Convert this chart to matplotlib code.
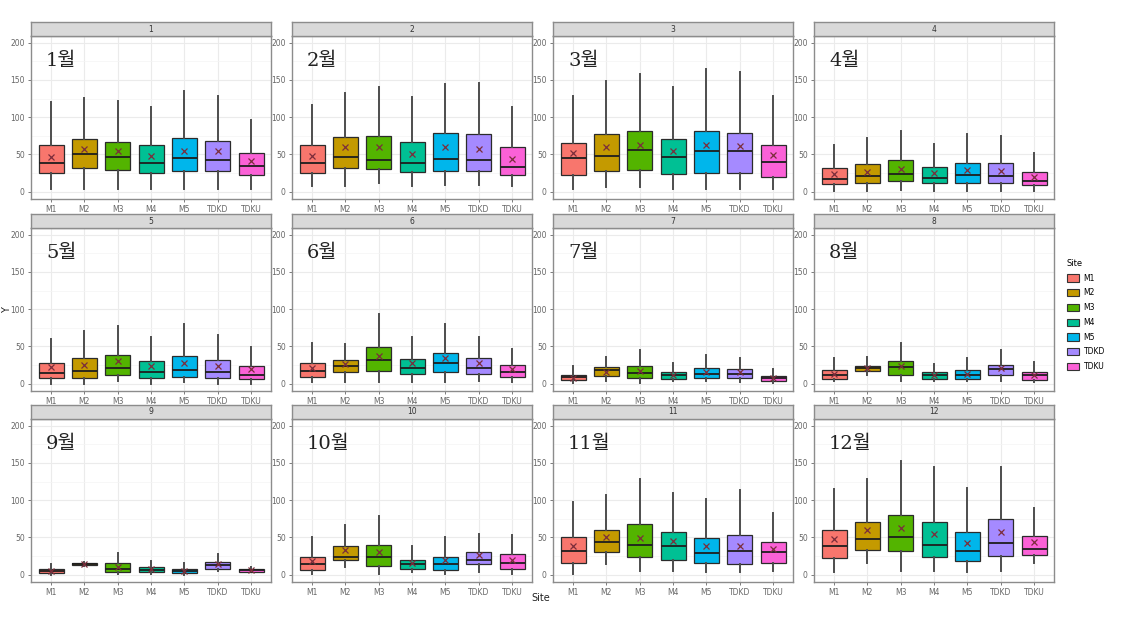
import matplotlib
matplotlib.use('Agg')
import matplotlib.pyplot as plt
from matplotlib.patches import Patch

sites = ['M1', 'M2', 'M3', 'M4', 'M5', 'TDKD', 'TDKU']
months = list(range(1, 13))
month_labels = ['%d월' % m for m in months]
colors = ['#F8766D', '#C49A00', '#53B400', '#00C094', '#00B6EB', '#A58AFF', '#FB61D7']

# box statistics per month (rows) and site (columns)
whis_hi = [
    [120, 126, 121, 114, 135, 128, 96],
    [116, 133, 140, 127, 145, 146, 114],
    [128, 148, 158, 140, 165, 160, 128],
    [62, 72, 81, 64, 78, 75, 52],
    [60, 70, 78, 63, 80, 65, 49],
    [55, 53, 94, 63, 80, 63, 46],
    [24, 36, 45, 27, 39, 35, 20],
    [34, 36, 55, 26, 35, 45, 29],
    [14, 17, 29, 18, 15, 28, 10],
    [51, 67, 79, 38, 51, 55, 53],
    [97, 107, 128, 109, 101, 113, 83],
    [115, 129, 153, 145, 116, 145, 90],
]
q3 = [
    [63, 70, 67, 62, 72, 68, 52],
    [62, 73, 75, 66, 79, 77, 60],
    [65, 77, 81, 70, 81, 79, 63],
    [31, 37, 42, 33, 39, 38, 26],
    [28, 34, 38, 30, 37, 32, 24],
    [27, 32, 49, 33, 41, 34, 25],
    [12, 22, 23, 16, 21, 19, 10],
    [18, 24, 30, 15, 18, 25, 15],
    [8, 15, 15, 10, 8, 17, 7],
    [24, 39, 40, 20, 24, 30, 27],
    [50, 60, 68, 57, 49, 53, 44],
    [60, 71, 80, 71, 57, 74, 52],
]
med = [
    [39, 50, 46, 39, 45, 43, 34],
    [38, 47, 43, 38, 44, 42, 33],
    [45, 48, 56, 47, 55, 54, 40],
    [17, 21, 24, 18, 22, 21, 14],
    [14, 17, 21, 15, 18, 16, 12],
    [17, 24, 32, 21, 27, 21, 15],
    [9, 18, 14, 11, 13, 13, 7],
    [12, 21, 22, 11, 11, 19, 11],
    [5, 14, 8, 6, 5, 13, 6],
    [14, 24, 23, 14, 14, 20, 16],
    [31, 44, 40, 38, 29, 31, 30],
    [39, 48, 50, 40, 32, 43, 35],
]
q1 = [
    [25, 32, 29, 25, 28, 27, 22],
    [25, 32, 30, 26, 28, 28, 22],
    [22, 27, 29, 23, 25, 25, 20],
    [10, 12, 14, 11, 12, 11, 9],
    [8, 8, 11, 8, 9, 8, 6],
    [9, 16, 17, 13, 16, 13, 9],
    [5, 10, 8, 6, 8, 8, 4],
    [6, 17, 12, 6, 6, 12, 5],
    [2, 13, 4, 4, 2, 8, 4],
    [6, 19, 11, 7, 6, 14, 7],
    [16, 30, 24, 20, 15, 14, 16],
    [22, 33, 31, 23, 18, 25, 26],
]
whis_lo = [
    [3, 3, 3, 3, 3, 3, 3],
    [8, 8, 12, 8, 9, 9, 8],
    [3, 6, 6, 3, 3, 3, 3],
    [1, 1, 2, 1, 1, 1, 1],
    [0, 0, 4, 0, 2, 0, 0],
    [2, 2, 2, 2, 2, 4, 2],
    [1, 3, 1, 3, 3, 2, 1],
    [3, 12, 4, 3, 3, 4, 2],
    [0, 11, 1, 1, 0, 5, 3],
    [1, 10, 1, 3, 1, 3, 1],
    [1, 14, 5, 5, 4, 4, 5],
    [4, 15, 5, 5, 4, 5, 15],
]
mean = [
    [47, 57, 54, 48, 55, 54, 41],
    [48, 60, 60, 51, 60, 57, 44],
    [52, 60, 63, 55, 63, 61, 49],
    [23, 26, 30, 25, 29, 27, 20],
    [22, 25, 30, 24, 27, 24, 19],
    [21, 26, 37, 27, 34, 27, 20],
    [8, 16, 17, 12, 16, 15, 7],
    [13, 21, 24, 12, 13, 21, 12],
    [5, 14, 10, 7, 5, 14, 6],
    [18, 33, 30, 15, 19, 26, 19],
    [38, 50, 49, 45, 38, 39, 34],
    [48, 60, 63, 54, 43, 57, 44],
]

W, H = 1126, 627
fig = plt.figure(figsize=(W / 100, H / 100), dpi=100)

col_left = [31, 292, 553, 814]
row_top = [36, 228, 419]
pw, ph, sh = 240, 163, 14
border = '#8c8c8c'

for i, m in enumerate(months):
    r, c = divmod(i, 4)
    left, top = col_left[c], row_top[r]
    ax = fig.add_axes([left / W, 1 - (top + ph) / H, pw / W, ph / H])
    stats = []
    for j in range(len(sites)):
        stats.append(dict(med=med[i][j], q1=q1[i][j], q3=q3[i][j],
                          whislo=whis_lo[i][j], whishi=whis_hi[i][j],
                          mean=mean[i][j], fliers=[]))
    bp = ax.bxp(stats, positions=range(1, 8), widths=0.75, patch_artist=True,
                showmeans=True, showcaps=False,
                boxprops=dict(edgecolor='#2b2b2b', linewidth=0.9),
                whiskerprops=dict(color='#4d4d4d', linewidth=1.4),
                medianprops=dict(color='#1e1e1e', linewidth=1.3),
                meanprops=dict(marker='x', markeredgecolor='#7B2D3B',
                               markersize=5, markeredgewidth=0.9))
    for patch, col in zip(bp['boxes'], colors):
        patch.set_facecolor(col)
    ax.set_xlim(0.4, 7.6)
    ax.set_ylim(-10, 209)
    ax.set_xticks(range(1, 8))
    ax.set_xticklabels(sites)
    ax.set_yticks([0, 50, 100, 150, 200])
    ax.set_yticks([25, 75, 125, 175], minor=True)
    ax.set_axisbelow(True)
    ax.grid(which='major', color='#EBEBEB', linewidth=0.8)
    ax.grid(which='minor', axis='y', color='#F4F4F4', linewidth=0.5)
    ax.tick_params(which='major', labelsize=5.5, labelcolor='#666666',
                   color='#666666', length=2.5, width=0.6, pad=2)
    ax.tick_params(which='minor', length=0)
    for s in ax.spines.values():
        s.set_color(border)
        s.set_linewidth(1.0)
    ax.text(0.85, 176, month_labels[i], ha='left', va='center', fontsize=14,
            color='#222222', family=['DejaVu Serif', 'Noto Sans CJK KR'])

    sax = fig.add_axes([left / W, 1 - top / H, pw / W, sh / H])
    sax.set_facecolor('#D9D9D9')
    sax.set_xticks([])
    sax.set_yticks([])
    for s in sax.spines.values():
        s.set_color(border)
        s.set_linewidth(1.0)
    sax.text(0.5, 0.5, str(m), ha='center', va='center', fontsize=5.5,
             color='#333333', transform=sax.transAxes)

fig.text(7 / W, 1 - 310 / H, 'Y', rotation=90, ha='center', va='center',
         fontsize=7, color='#222222')
fig.text(541 / W, 1 - 598 / H, 'Site', ha='center', va='center',
         fontsize=7, color='#222222')

handles = [Patch(facecolor=col, edgecolor='#333333', linewidth=0.8, label=s)
           for col, s in zip(colors, sites)]
leg = fig.legend(handles=handles, title='Site', loc='upper left',
                 bbox_to_anchor=(1060 / W, 1 - 252 / H), frameon=False,
                 fontsize=5.5, title_fontsize=6, handlelength=1.6,
                 handleheight=1.1, labelspacing=0.75, handletextpad=0.6)
leg._legend_box.align = 'left'

fig.savefig('out.png', dpi=100, facecolor='white')
